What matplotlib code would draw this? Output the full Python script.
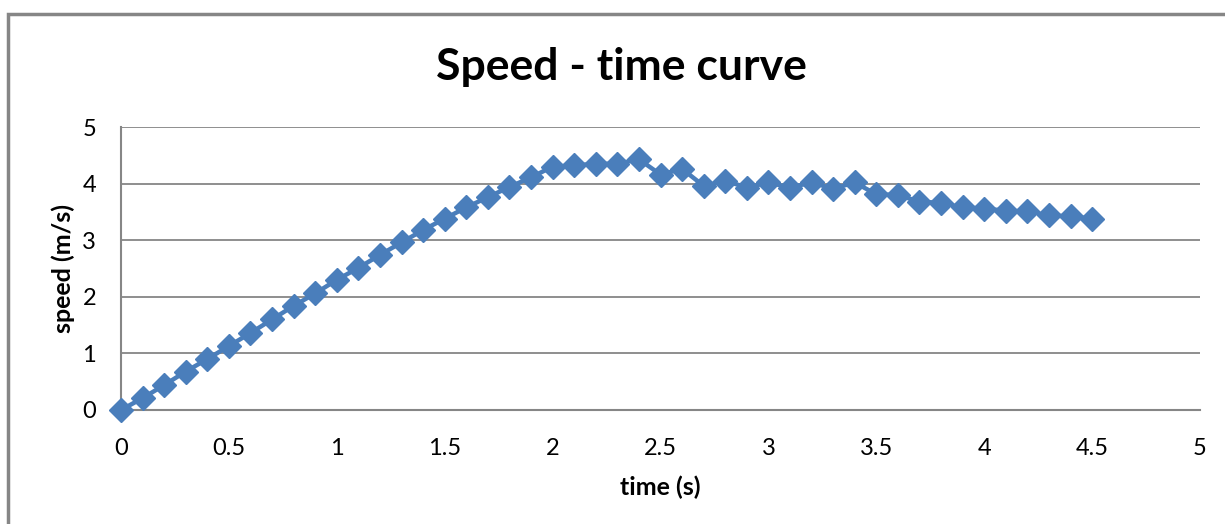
import numpy as np
from matplotlib import pyplot as plt
from matplotlib.patches import Rectangle

# time (s) and speed (m/s)
time = [0.0, 0.1, 0.2, 0.3, 0.4, 0.5, 0.6, 0.7, 0.8, 0.9,
        1.0, 1.1, 1.2, 1.3, 1.4, 1.5, 1.6, 1.7, 1.8, 1.9,
        2.0, 2.1, 2.2, 2.3, 2.4, 2.5, 2.6, 2.7, 2.8, 2.9,
        3.0, 3.1, 3.2, 3.3, 3.4, 3.5, 3.6, 3.7, 3.8, 3.9,
        4.0, 4.1, 4.2, 4.3, 4.4, 4.5]
speed = [0.00, 0.21, 0.44, 0.68, 0.90, 1.13, 1.36, 1.60, 1.84, 2.06,
         2.30, 2.51, 2.74, 2.96, 3.18, 3.38, 3.58, 3.76, 3.94, 4.11,
         4.30, 4.32, 4.35, 4.35, 4.43, 4.16, 4.26, 3.96, 4.05, 3.93,
         4.02, 3.93, 4.02, 3.91, 4.02, 3.81, 3.80, 3.68, 3.66, 3.58,
         3.56, 3.52, 3.51, 3.44, 3.42, 3.38]
x_ticks = [0, 0.5, 1, 1.5, 2, 2.5, 3, 3.5, 4, 4.5, 5]
x_tick_labels = ['0', '0.5', '1', '1.5', '2', '2.5', '3', '3.5', '4', '4.5', '5']
y_ticks = [0, 1, 2, 3, 4, 5]

plt.rcParams['font.family'] = ['Lato', 'DejaVu Sans']

fig = plt.figure(figsize=(12.25, 5.24), dpi=100)
ax = fig.add_axes([121 / 1225, 114 / 524, 1079 / 1225, 283 / 524])

# outer chart border
fig.patches.append(Rectangle((8 / 1225, -0.1), 1.2, (524 - 14) / 524 + 0.1,
                             transform=fig.transFigure, fill=False,
                             edgecolor='#868686', linewidth=2.5))

ax.plot(time, speed, color='#4A7EBB', linewidth=3.2, marker='D',
        markersize=12, markeredgecolor='#4A7EBB', clip_on=False, zorder=3)

ax.set_xlim(0, 5)
ax.set_ylim(0, 5)
ax.set_xticks(x_ticks)
ax.set_xticklabels(x_tick_labels)
ax.set_yticks(y_ticks)
ax.tick_params(axis='both', length=0, labelsize=17, colors='black')
ax.tick_params(axis='x', pad=20)
ax.tick_params(axis='y', pad=18)

ax.grid(axis='y', color='#868686', linewidth=1.3)
ax.set_axisbelow(True)
for side in ['top', 'right']:
    ax.spines[side].set_visible(False)
for side in ['left', 'bottom']:
    ax.spines[side].set_color('#868686')
    ax.spines[side].set_linewidth(1.5)

fig.text(621 / 1225, 1 - 67 / 524, 'Speed - time curve', fontsize=32,
         fontweight='bold', ha='center', va='center')
ax.set_xlabel('time (s)', fontsize=18, fontweight='bold', va='center')
ax.set_ylabel('speed (m/s)', fontsize=18, fontweight='bold', va='center', ha='center')
ax.xaxis.set_label_coords((660 - 121) / 1079, -77 / 283)
ax.yaxis.set_label_coords(-58 / 1079, 0.5)

fig.savefig('out.png', dpi=100)
